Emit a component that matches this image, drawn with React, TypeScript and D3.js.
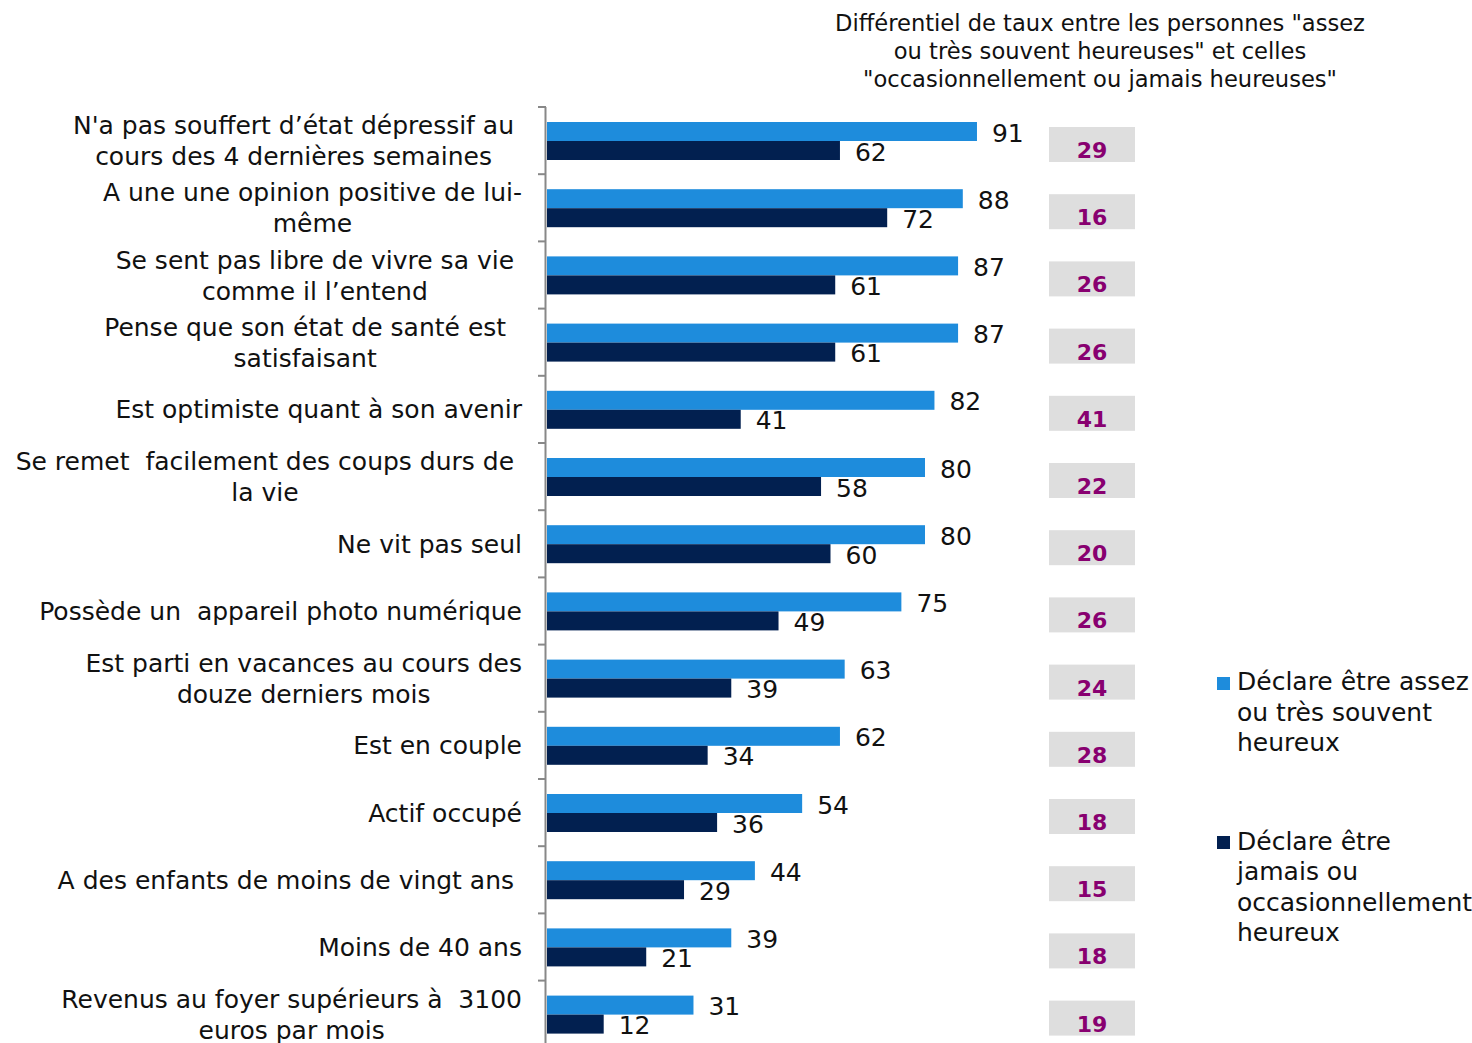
import React from "react";
import * as d3 from "d3";

const categories: string[] = [
  "N'a pas souffert d\u2019état dépressif au \ncours des 4 dernières semaines",
  "A une une opinion positive de lui-\nmême",
  "Se sent pas libre de vivre sa vie \ncomme il l\u2019entend",
  "Pense que son état de santé est  \nsatisfaisant",
  "Est optimiste quant à son avenir",
  "Se remet  facilement des coups durs de \nla vie",
  "Ne vit pas seul",
  "Possède un  appareil photo numérique",
  "Est parti en vacances au cours des\ndouze derniers mois",
  "Est en couple",
  "Actif occupé",
  "A des enfants de moins de vingt ans ",
  "Moins de 40 ans",
  "Revenus au foyer supérieurs à  3100\neuros par mois",
];
const happyValues: number[] = [91, 88, 87, 87, 82, 80, 80, 75, 63, 62, 54, 44, 39, 31];
const unhappyValues: number[] = [62, 72, 61, 61, 41, 58, 60, 49, 39, 34, 36, 29, 21, 12];
const diffValues: number[] = [29, 16, 26, 26, 41, 22, 20, 26, 24, 28, 18, 15, 18, 19];
const titleLines: string[] = [
  "Différentiel de taux entre les personnes \"assez",
  "ou très souvent heureuses\" et celles",
  "\"occasionnellement ou jamais heureuses\"",
];
const legendHappy: string[] = ["Déclare être assez", "ou très souvent", "heureux"];
const legendUnhappy: string[] = ["Déclare être", "jamais ou", "occasionnellement", "heureux"];

const FONT = "'DejaVu Sans', Verdana, sans-serif";
const BLUE = "#1E8CDC";
const NAVY = "#022050";
const MAGENTA = "#880070";

let ctx: CanvasRenderingContext2D | null = null;
function measure(text: string, size: number): number {
  if (!ctx) {
    const c = document.createElement("canvas");
    ctx = c.getContext("2d");
  }
  if (!ctx) return text.length * size * 0.55;
  ctx.font = `${size}px 'DejaVu Sans'`;
  return ctx.measureText(text).width;
}

export default function App() {
  const W = 1472;
  const H = 1060;
  const idx = categories.map((_, i) => String(i));
  const y = d3.scaleBand<string>().domain(idx).range([107, 107 + 67.2 * categories.length]).paddingInner(0).paddingOuter(0);
  const x = d3.scaleLinear().domain([0, 100]).range([547, 1019.5]);
  const bw = y.bandwidth();
  const LABEL_R = 522;
  const FS = 25;
  const pre = { whiteSpace: "pre" } as React.CSSProperties;

  return (
    <svg width={W} height={H} style={{ position: "absolute", left: 0, top: 0, background: "#fff" }} fontFamily={FONT}>
      {titleLines.map((t, i) => (
        <text key={"t" + i} x={1100} y={31 + i * 28} textAnchor="middle" fontSize={22.6} fill="#111">
          {t}
        </text>
      ))}
      <line x1={545.5} x2={545.5} y1={107} y2={H} stroke="#888" strokeWidth={2} />
      {d3.range(categories.length + 1).map((i) => {
        const ty = 107 + i * 67.2;
        return <line key={"tk" + i} x1={538} x2={546} y1={ty} y2={ty} stroke="#888" strokeWidth={2} />;
      })}
      {categories.map((cat, i) => {
        const top = y(String(i)) as number;
        const lines = cat.split("\n");
        const vis = lines.map((l) => measure(l.replace(/\s+$/, ""), FS));
        const full = lines.map((l) => measure(l, FS));
        let k = 0;
        lines.forEach((_, j) => {
          if (full[j] > full[k]) k = j;
        });
        const trailing = full[k] - vis[k];
        const center = LABEL_R - trailing - vis[k] / 2;
        const cy = top + bw / 2;
        const lh = 31;
        const startY = cy - ((lines.length - 1) * lh) / 2;
        const b1 = top + 15;
        const b2 = top + 34;
        const bh = 19;
        return (
          <g key={"c" + i}>
            {lines.map((l, j) => (
              <text
                key={j}
                x={lines.length === 1 ? LABEL_R - trailing : center}
                y={startY + j * lh}
                dy="0.36em"
                textAnchor={lines.length === 1 ? "end" : "middle"}
                fontSize={FS}
                fill="#111"
                style={pre}
              >
                {l.replace(/\s+$/, "")}
              </text>
            ))}
            <rect x={x(0)} y={b1} width={x(happyValues[i]) - x(0)} height={bh} fill={BLUE} />
            <rect x={x(0)} y={b2} width={x(unhappyValues[i]) - x(0)} height={bh} fill={NAVY} />
            <text x={x(happyValues[i]) + 15} y={b1 + bh / 2 + 1} dy="0.36em" fontSize={FS} fill="#111">
              {happyValues[i]}
            </text>
            <text x={x(unhappyValues[i]) + 15} y={b2 + bh / 2 + 1} dy="0.36em" fontSize={FS} fill="#111">
              {unhappyValues[i]}
            </text>
            <rect x={1049} y={top + 20} width={86} height={35} fill="#DEDEDE" />
            <text x={1092} y={top + 51} textAnchor="middle" fontSize={22} fontWeight="bold" fill={MAGENTA}>
              {diffValues[i]}
            </text>
          </g>
        );
      })}
      <rect x={1217} y={677} width={13} height={13} fill={BLUE} />
      {legendHappy.map((t, i) => (
        <text key={"lh" + i} x={1237} y={690 + i * 30.5} fontSize={FS} fill="#111">
          {t}
        </text>
      ))}
      <rect x={1217} y={836} width={13} height={13} fill={NAVY} />
      {legendUnhappy.map((t, i) => (
        <text key={"lu" + i} x={1237} y={850 + i * 30.3} fontSize={FS} fill="#111">
          {t}
        </text>
      ))}
    </svg>
  );
}
